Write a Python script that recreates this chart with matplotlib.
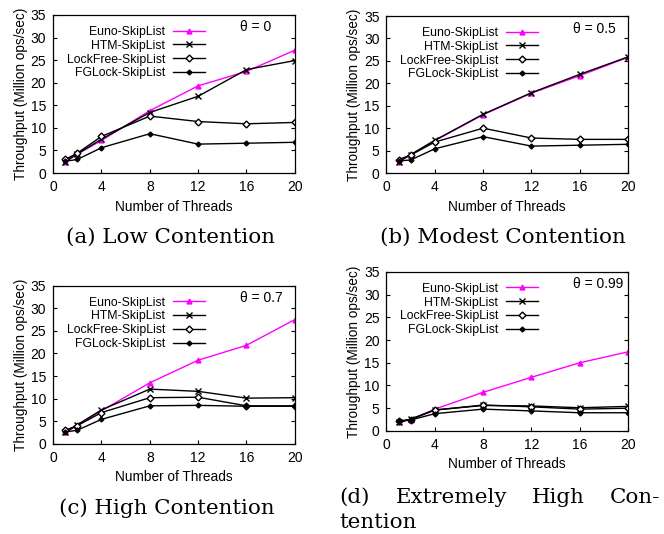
import matplotlib
matplotlib.use('Agg')
import matplotlib.pyplot as plt

# threads on the x axis
threads = [1, 2, 4, 8, 12, 16, 20]
thread_ticks = [0, 4, 8, 12, 16, 20]

# (a) theta = 0
euno_a = [2.5, 4.2, 7.2, 13.8, 19.3, 22.5, 27.2]
htm_a = [2.5, 4.2, 7.5, 13.4, 17.0, 22.9, 24.9]
lockfree_a = [3.0, 4.4, 8.1, 12.6, 11.4, 10.9, 11.2]
fglock_a = [2.6, 3.0, 5.6, 8.7, 6.4, 6.6, 6.8]

# (b) theta = 0.5
euno_b = [2.5, 4.0, 7.2, 13.0, 17.8, 21.7, 25.8]
htm_b = [2.5, 4.1, 7.3, 13.1, 17.9, 22.0, 25.9]
lockfree_b = [3.0, 4.0, 6.9, 10.0, 7.8, 7.5, 7.5]
fglock_b = [2.7, 2.9, 5.4, 8.1, 6.0, 6.2, 6.4]

# (c) theta = 0.7
euno_c = [2.5, 4.0, 7.3, 13.5, 18.5, 21.8, 27.5]
htm_c = [2.5, 4.2, 7.5, 12.1, 11.6, 10.1, 10.2]
lockfree_c = [3.0, 4.0, 6.9, 10.2, 10.3, 8.4, 8.4]
fglock_c = [2.6, 3.0, 5.4, 8.4, 8.5, 8.3, 8.3]

# (d) theta = 0.99
euno_d = [2.0, 2.5, 4.8, 8.5, 11.8, 15.0, 17.4]
htm_d = [1.9, 2.6, 4.6, 5.6, 5.5, 5.1, 5.4]
lockfree_d = [2.2, 2.5, 4.6, 5.7, 5.3, 4.8, 5.0]
fglock_d = [2.1, 2.4, 3.8, 4.8, 4.4, 4.0, 4.0]

series_names = ['Euno-SkipList', 'HTM-SkipList', 'LockFree-SkipList', 'FGLock-SkipList']
thetas = ['\u03b8 = 0', '\u03b8 = 0.5', '\u03b8 = 0.7', '\u03b8 = 0.99']
captions = ['(a) Low Contention', '(b) Modest Contention', '(c) High Contention']
caption_d_words = ['(d)', 'Extremely', 'High', 'Con-']

panels = [
    [euno_a, htm_a, lockfree_a, fglock_a],
    [euno_b, htm_b, lockfree_b, fglock_b],
    [euno_c, htm_c, lockfree_c, fglock_c],
    [euno_d, htm_d, lockfree_d, fglock_d],
]

styles = [
    dict(color='#ff00ff', marker='^', ms=3.5, mfc='#ff00ff', mec='#ff00ff'),
    dict(color='black', marker='x', ms=5, mew=1.0),
    dict(color='black', marker='D', ms=3.5, mfc='white', mec='black'),
    dict(color='black', marker='D', ms=2.5, mfc='black', mec='black'),
]

# axes boxes in figure fractions
boxes = [
    [0.080, 0.676, 0.364, 0.296],
    [0.582, 0.676, 0.364, 0.294],
    [0.080, 0.169, 0.364, 0.296],
    [0.582, 0.193, 0.364, 0.298],
]

fig = plt.figure(figsize=(6.64, 5.34), dpi=100)
plt.rcParams['font.family'] = 'Liberation Sans'

for i in range(4):
    ax = fig.add_axes(boxes[i])
    for name, vals, st in zip(series_names, panels[i], styles):
        ax.plot(threads, vals, lw=1.0, label=name, **st)
    ax.set_xlim(0, 20)
    ax.set_ylim(0, 35)
    ax.set_xticks(thread_ticks)
    ax.set_yticks(range(0, 36, 5))
    ax.tick_params(direction='in', right=True, labelsize=10, length=3, pad=5)
    ax.set_xlabel('Number of Threads', fontsize=9.8, labelpad=4)
    ax.set_ylabel('Throughput (Million ops/sec)', fontsize=9.8, labelpad=2)
    for s in ax.spines.values():
        s.set_linewidth(0.9)
    ax.text(0.773, 0.965, thetas[i], transform=ax.transAxes, ha='left', va='top', fontsize=10)
    ax.legend(loc='upper left', bbox_to_anchor=(0.02, 0.985), frameon=False, markerfirst=False,
              fontsize=8.8, handlelength=2.6, labelspacing=0.15, borderpad=0.2, handletextpad=0.65,
              alignment='right')

# captions under the panels
cap_pos = [(0.2575, 0.556), (0.7575, 0.556), (0.2515, 0.049)]
for (cx, cy), cap in zip(cap_pos, captions):
    fig.text(cx, cy, cap, ha='center', va='center', fontsize=15.4, family='DejaVu Serif')

# caption (d) is justified over two lines
word_x = [0.5105, 0.596, 0.801, 0.918]
for wx, w in zip(word_x, caption_d_words):
    fig.text(wx, 0.069, w, ha='left', va='center', fontsize=15.4, family='DejaVu Serif')
fig.text(0.5105, 0.021, 'tention', ha='left', va='center', fontsize=15.4, family='DejaVu Serif')

fig.savefig('out.png', dpi=100)
